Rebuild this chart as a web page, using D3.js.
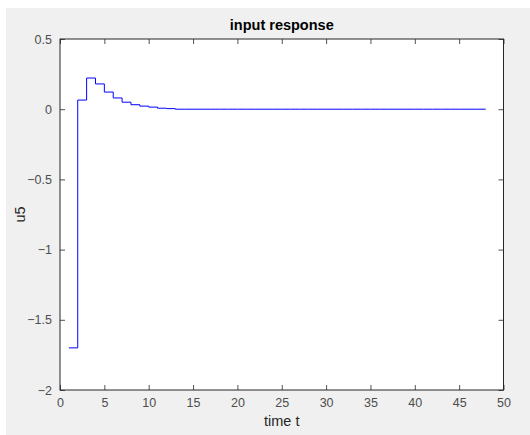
<!DOCTYPE html>
<html>
<head>
<meta charset="utf-8">
<script src="https://cdn.jsdelivr.net/npm/d3@7"></script>
<style>
  html, body { margin: 0; padding: 0; background: #ffffff; }
  svg { display: block; }
</style>
</head>
<body>
<svg id="chart" width="530" height="435"></svg>
<script>
// Sample instants and the input held over each sample interval
const times = d3.range(1, 49);
const u5 = [-1.7, 0.065, 0.222, 0.18, 0.122, 0.08, 0.05, 0.032, 0.022, 0.015, 0.007, 0.004]
  .concat(new Array(36).fill(0));
const xTicks = [0, 5, 10, 15, 20, 25, 30, 35, 40, 45, 50];
const yTicks = [-2, -1.5, -1, -0.5, 0, 0.5];

const svg = d3.select("#chart");
const W = 530, H = 435;
const m = { left: 60, right: 503.5, top: 39, bottom: 390 };

// Figure background
svg.append("rect").attr("x", 6).attr("y", 8).attr("width", W - 6).attr("height", H - 8)
  .attr("fill", "#f0f0f0");

const x = d3.scaleLinear().domain([0, 50]).range([m.left, m.right]);
const y = d3.scaleLinear().domain([-2, 0.5]).range([m.bottom, m.top]);

// Axes area
svg.append("rect").attr("x", m.left).attr("y", m.top)
  .attr("width", m.right - m.left).attr("height", m.bottom - m.top)
  .attr("fill", "#ffffff");

const font = "Liberation Sans, Arial, sans-serif";
const axisColor = "#262626";
const tickLen = 5;

function styleAxis(g) {
  g.select(".domain").remove();
  g.selectAll(".tick line").attr("stroke", axisColor).attr("stroke-width", 0.8);
  g.selectAll(".tick text").attr("fill", "#4d4d4d")
    .style("font-family", font).style("font-size", "12.5px");
}

// Bottom and top x axes (ticks point inward)
svg.append("g").attr("transform", `translate(0,${m.bottom})`)
  .call(d3.axisBottom(x).tickValues(xTicks).tickFormat(d3.format("d"))
    .tickSizeInner(-tickLen).tickSizeOuter(0).tickPadding(8))
  .call(styleAxis);
svg.append("g").attr("transform", `translate(0,${m.top})`)
  .call(d3.axisTop(x).tickValues(xTicks).tickFormat("")
    .tickSizeInner(-tickLen).tickSizeOuter(0))
  .call(styleAxis);

// Left and right y axes
svg.append("g").attr("transform", `translate(${m.left},0)`)
  .call(d3.axisLeft(y).tickValues(yTicks).tickFormat(d => d3.format("")(d))
    .tickSizeInner(-tickLen).tickSizeOuter(0).tickPadding(8))
  .call(styleAxis);
svg.append("g").attr("transform", `translate(${m.right},0)`)
  .call(d3.axisRight(y).tickValues(yTicks).tickFormat("")
    .tickSizeInner(-tickLen).tickSizeOuter(0))
  .call(styleAxis);

// Box outline
svg.append("rect").attr("x", m.left).attr("y", m.top)
  .attr("width", m.right - m.left).attr("height", m.bottom - m.top)
  .attr("fill", "none").attr("stroke", axisColor).attr("stroke-width", 1);

// Staircase input signal
const line = d3.line()
  .x((d, i) => x(times[i]))
  .y(d => y(d))
  .curve(d3.curveStepAfter);
svg.append("path").datum(u5)
  .attr("d", line)
  .attr("fill", "none")
  .attr("stroke", "#0000ff")
  .attr("stroke-width", 1);

// Title and axis labels
svg.append("text").attr("x", (m.left + m.right) / 2).attr("y", 30)
  .attr("text-anchor", "middle").attr("fill", "#000")
  .style("font-family", font).style("font-size", "14.5px").style("font-weight", "bold")
  .text("input response");
svg.append("text").attr("x", (m.left + m.right) / 2).attr("y", 426)
  .attr("text-anchor", "middle").attr("fill", "#262626")
  .style("font-family", font).style("font-size", "14.5px")
  .text("time t");
svg.append("text")
  .attr("transform", `translate(25,${(m.top + m.bottom) / 2}) rotate(-90)`)
  .attr("text-anchor", "middle").attr("fill", "#262626")
  .style("font-family", font).style("font-size", "14.5px")
  .text("u5");
</script>
</body>
</html>
